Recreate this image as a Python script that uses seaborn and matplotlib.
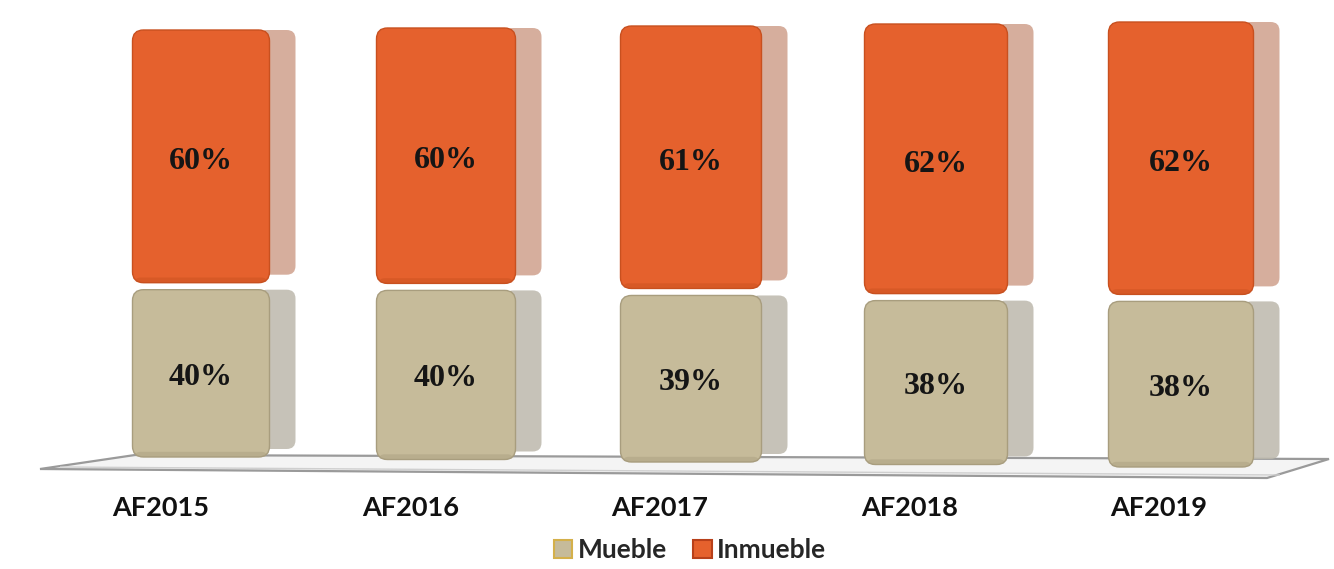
import matplotlib
matplotlib.use("Agg")
import matplotlib.pyplot as plt
import matplotlib.transforms as mtransforms
from matplotlib.patches import FancyBboxPatch, Polygon, Rectangle
import seaborn as sns
import pandas as pd

# Data
years = ["AF2015", "AF2016", "AF2017", "AF2018", "AF2019"]
mueble = [40, 40, 39, 38, 38]
inmueble = [60, 60, 61, 62, 62]

ORANGE = "#E5612D"
ORANGE_SIDE = "#CFA08C"
BEIGE = "#C6BB9A"
BEIGE_SIDE = "#BCB8AC"

sns.set_theme(style="white")
plt.rcParams["font.family"] = ["Lato", "DejaVu Sans"]

W, H = 1334, 569
fig = plt.figure(figsize=(W / 100, H / 100), dpi=100)
fig.patch.set_facecolor("white")

# axes placed so one category = 245 px, 100 % = 433 px
ax_left, ax_bottom, ax_w, ax_h = 78.5, 460, 1225, 433
ax = fig.add_axes([ax_left / W, 1 - ax_bottom / H, ax_w / W, ax_h / H])
ax.set_facecolor("none")

df = pd.DataFrame({"year": years, "Mueble": mueble, "Inmueble": inmueble})
df["total"] = df["Mueble"] + df["Inmueble"]

bar_w = 0.57
sns.barplot(data=df, x="year", y="total", color=ORANGE, width=bar_w, ax=ax,
            saturation=1)
n_top = len(ax.patches)
sns.barplot(data=df, x="year", y="Mueble", color=BEIGE, width=bar_w, ax=ax,
            saturation=1)

ax.set_xlim(-0.5, len(years) - 0.5)
ax.set_ylim(0, 100)
for s in ax.spines.values():
    s.set_visible(False)
ax.set_xticks([])
ax.set_yticks([])
ax.set_xlabel("")
ax.set_ylabel("")

px_x = 245.0          # pixels per x unit
px_y = ax_h / 100.0   # pixels per y unit
gap = 3.5 / px_y      # half gap between stacked blocks
r = 11 / px_x         # corner radius (x units)
aspect = px_x / px_y
depth = 26 / px_x
drop = 8 / px_y

# floor slab in figure pixels
def fpt(x, y):
    return (x / W, 1 - y / H)

floor = Polygon([fpt(40, 469), fpt(135, 455), fpt(1329, 459), fpt(1267, 478)],
                closed=True, facecolor="#F4F4F4", edgecolor="#9A9A9A",
                linewidth=1.6, transform=fig.transFigure, clip_on=False, zorder=0.5)
ax.add_patch(floor)
ax.add_patch(Polygon([fpt(60, 467), fpt(1280, 475)], closed=False, fill=False,
                     edgecolor="#CFCFCF", linewidth=1.0, transform=fig.transFigure,
                     clip_on=False, zorder=0.6))

bar_patches = [p for p in ax.patches if isinstance(p, Rectangle)]
top_bars = bar_patches[:n_top]
bottom_bars = bar_patches[n_top:n_top + len(years)]

def block(x0, y0, w, h, face, side, edge):
    # side face (depth)
    ax.add_patch(FancyBboxPatch((x0 + w - r, y0 + drop), depth + r, h - drop,
                                boxstyle=f"round,pad=0,rounding_size={r*0.8}",
                                mutation_aspect=aspect, facecolor=side,
                                edgecolor="none", alpha=0.85, zorder=1.5,
                                clip_on=False))
    # front face
    ax.add_patch(FancyBboxPatch((x0, y0), w, h,
                                boxstyle=f"round,pad=0,rounding_size={r}",
                                mutation_aspect=aspect, facecolor=face,
                                edgecolor=edge, linewidth=1.0, zorder=2,
                                clip_on=False))
    # darker lower rim
    ax.add_patch(FancyBboxPatch((x0 + 0.01, y0), w - 0.02, 1.2,
                                boxstyle=f"round,pad=0,rounding_size={r*0.5}",
                                mutation_aspect=aspect, facecolor=edge,
                                edgecolor="none", alpha=0.45, zorder=2.1,
                                clip_on=False))

serif = ["Liberation Serif", "DejaVu Serif"]
for i, (pt, pb) in enumerate(zip(top_bars, bottom_bars)):
    pt.set_visible(False)
    pb.set_visible(False)
    # mild perspective: nearer bars slightly wider and taller
    cx = pb.get_x() + pb.get_width() / 2
    w = (137 + 2.0 * i) / px_x
    x0 = cx - w / 2
    y_base = (3 - 2.5 * i) / px_y
    scale = (427 + 4.5 * i) / ax_h
    hb = pb.get_height() * scale
    ht = pt.get_height() * scale
    # upper block: Inmueble
    block(x0, y_base + hb + gap, w, ht - hb - gap, ORANGE, ORANGE_SIDE, "#C8501F")
    # lower block: Mueble
    block(x0, y_base, w, hb - gap, BEIGE, BEIGE_SIDE, "#A89D7E")
    ax.text(cx, y_base + hb + (ht - hb) / 2 - 0.8, f"{inmueble[i]}%", ha="center",
            va="center", fontsize=23, fontweight="bold", family=serif,
            color="#151515", zorder=5, clip_on=False)
    ax.text(cx, y_base + hb / 2 - 1.3, f"{mueble[i]}%", ha="center", va="center",
            fontsize=23, fontweight="bold", family=serif,
            color="#151515", zorder=5, clip_on=False)

# category labels, shifted left by the perspective
trans = mtransforms.blended_transform_factory(ax.transData, ax.transAxes)
for i, yr in enumerate(years):
    off = mtransforms.ScaledTranslation((-40 + 4.5 * i) / 100, 0, fig.dpi_scale_trans)
    ax.text(i, -48 / ax_h, yr, transform=trans + off, ha="center", va="center",
            fontsize=19.5, fontweight="bold", color="#111111", clip_on=False)

handles = [Rectangle((0, 0), 1, 1, facecolor=BEIGE, edgecolor="#D4B04A", linewidth=1.5),
           Rectangle((0, 0), 1, 1, facecolor=ORANGE, edgecolor="#B8401A", linewidth=1.5)]
fig.legend(handles, ["Mueble", "Inmueble"], loc="center", ncol=2,
           bbox_to_anchor=(690 / W, 1 - 550 / H), frameon=False,
           prop={"size": 19, "weight": "bold"}, handlelength=0.7, handleheight=0.7,
           handletextpad=0.2, columnspacing=1.0, borderaxespad=0, borderpad=0)

fig.savefig("out.png", dpi=100, facecolor="white")
